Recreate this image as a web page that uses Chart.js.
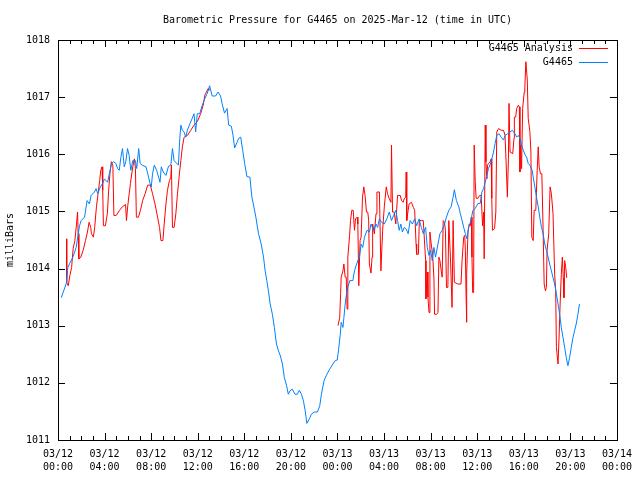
<!DOCTYPE html>
<html>
<head>
<meta charset="utf-8">
<script src="https://cdn.jsdelivr.net/npm/chart.js@4/dist/chart.umd.min.js"></script>
<style>
  body { margin: 0; background: #fff; }
  canvas { display: block; }
</style>
</head>
<body>
<canvas id="myChart" width="640" height="480"></canvas>
<script>
// hours since 2025-03-12 00:00 UTC
const blueHours = [0.28,0.71,0.85,1.00,1.28,1.56,1.85,1.99,2.28,2.50,2.70,2.84,3.13,3.27,3.41,3.64,3.84,3.98,4.26,4.41,4.60,4.77,4.97,5.12,5.26,5.40,5.54,5.69,5.82,5.97,6.11,6.25,6.42,6.65,6.76,6.93,7.05,7.22,7.56,7.78,7.90,8.01,8.12,8.27,8.47,8.64,8.76,8.87,9.04,9.27,9.49,9.69,9.83,9.97,10.34,10.46,10.55,10.68,10.83,10.97,11.11,11.34,11.53,11.68,11.82,11.96,12.17,12.39,12.62,12.81,13.02,13.24,13.53,13.75,13.96,14.09,14.30,14.52,14.66,14.89,15.03,15.17,15.52,15.69,15.86,16.03,16.22,16.48,16.65,16.82,16.99,17.22,17.45,17.65,17.79,17.93,18.07,18.22,18.41,18.58,18.76,18.93,19.10,19.27,19.44,19.63,19.78,19.92,20.12,20.35,20.55,20.72,20.91,21.08,21.23,21.37,21.63,21.76,21.99,22.28,22.48,22.62,22.85,23.04,23.33,23.61,23.81,23.98,24.10,24.24,24.32,24.47,24.55,24.66,24.78,24.89,25.06,25.32,25.46,25.60,25.75,25.89,26.03,26.17,26.32,26.54,26.74,26.88,27.11,27.31,27.45,27.60,27.79,28.02,28.24,28.45,28.64,28.82,29.01,29.16,29.30,29.44,29.58,29.73,29.90,30.07,30.24,30.43,30.63,30.80,31.01,31.20,31.37,31.57,31.71,31.86,32.00,32.14,32.28,32.42,32.63,32.80,32.99,33.19,33.36,33.56,33.76,33.93,34.04,34.21,34.42,34.55,34.70,34.84,34.98,35.12,35.27,35.46,35.63,35.83,36.06,36.26,36.40,36.55,36.68,36.83,36.97,37.20,37.40,37.54,37.68,37.88,38.05,38.26,38.39,38.62,38.82,39.02,39.24,39.39,39.53,39.67,39.81,39.96,40.09,40.24,40.38,40.52,40.72,40.81,40.95,41.09,41.24,41.37,41.52,41.66,41.80,41.94,42.09,42.22,42.37,42.51,42.65,42.80,42.94,43.08,43.22,43.37,43.51,43.65,43.79,43.93,44.08,44.22,44.36,44.50,44.65,44.78];
const bluePressure = [1013.49,1013.74,1014.02,1014.09,1014.2,1014.37,1014.75,1014.84,1014.9,1015.19,1015.13,1015.28,1015.34,1015.4,1015.31,1015.43,1015.49,1015.57,1015.51,1015.66,1015.84,1015.87,1015.84,1015.75,1015.72,1015.95,1016.1,1015.78,1015.87,1016.1,1015.98,1015.72,1015.89,1015.89,1015.75,1016.1,1015.84,1015.81,1015.78,1015.6,1015.49,1015.43,1015.66,1015.81,1015.72,1015.6,1015.51,1015.78,1015.69,1015.63,1015.79,1015.81,1016.1,1015.89,1015.81,1016.28,1016.51,1016.42,1016.39,1016.3,1016.42,1016.54,1016.63,1016.71,1016.39,1016.71,1016.71,1016.86,1016.98,1017.06,1017.2,1017.02,1017.02,1017.09,1017.02,1016.89,1016.72,1016.8,1016.51,1016.49,1016.33,1016.11,1016.28,1016.3,1016.07,1015.84,1015.61,1015.6,1015.25,1015.08,1014.9,1014.61,1014.43,1014.2,1013.96,1013.79,1013.61,1013.38,1013.2,1012.97,1012.68,1012.56,1012.47,1012.33,1012.09,1011.95,1011.8,1011.86,1011.89,1011.8,1011.8,1011.87,1011.8,1011.68,1011.51,1011.29,1011.39,1011.45,1011.49,1011.49,1011.6,1011.8,1012.04,1012.13,1012.24,1012.33,1012.39,1012.4,1012.59,1012.85,1013.06,1012.97,1013.14,1013.38,1013.56,1013.67,1013.79,1013.79,1013.96,1014.05,1014.14,1014.2,1014.43,1014.37,1014.55,1014.67,1014.64,1014.78,1014.67,1014.78,1014.72,1014.87,1014.81,1014.78,1014.87,1014.99,1014.84,1014.93,1015.02,1014.84,1014.67,1014.78,1014.64,1014.72,1014.69,1014.61,1014.84,1014.78,1014.87,1014.75,1014.87,1014.72,1014.61,1014.72,1014.37,1014.23,1014.32,1014.14,1014.37,1014.2,1014.43,1014.61,1014.67,1014.78,1014.9,1015.02,1015.08,1015.25,1015.38,1015.19,1015.08,1014.96,1014.84,1014.72,1014.61,1014.52,1014.72,1014.84,1015.02,1015.05,1015.14,1015.14,1015.34,1015.4,1015.51,1015.63,1015.75,1015.87,1016.04,1016.19,1016.33,1016.36,1016.3,1016.25,1016.33,1016.36,1016.39,1016.42,1016.36,1016.3,1016.33,1016.28,1016.16,1016.07,1016.0,1015.95,1015.84,1015.81,1015.72,1015.6,1015.43,1015.25,1015.08,1014.9,1014.72,1014.61,1014.43,1014.32,1014.2,1014.08,1013.96,1013.84,1013.73,1013.56,1013.38,1013.2,1012.97,1012.79,1012.62,1012.44,1012.3,1012.44,1012.62,1012.79,1012.91,1013.03,1013.2,1013.38];

// analysis series, null marks the gap between the two runs
const redHours = [0.74,0.75,0.88,1.02,1.17,1.30,1.45,1.59,1.68,1.73,1.79,1.96,2.16,2.36,2.53,2.67,2.81,2.87,3.04,3.15,3.30,3.44,3.58,3.67,3.78,3.84,3.90,4.07,4.24,4.35,4.46,4.58,4.71,4.80,5.00,5.29,5.52,5.80,5.88,5.99,6.22,6.42,6.56,6.65,6.73,6.91,7.08,7.27,7.48,7.70,7.93,8.12,8.33,8.55,8.72,8.84,9.01,9.12,9.27,9.40,9.57,9.69,9.74,9.83,9.97,10.12,10.26,10.40,10.55,10.68,10.83,11.11,11.40,11.68,11.96,12.25,12.47,12.62,12.90,12.96,
  18.0,
  24.04,24.19,24.27,24.32,24.47,24.55,24.66,24.75,24.83,24.89,25.04,25.12,25.23,25.35,25.46,25.55,25.69,25.75,25.83,25.94,26.03,26.15,26.26,26.37,26.49,26.60,26.68,26.74,26.88,26.97,27.02,27.17,27.31,27.39,27.60,27.73,27.88,28.02,28.19,28.30,28.45,28.59,28.64,28.73,28.87,29.01,29.16,29.39,29.50,29.64,29.73,29.86,29.90,29.95,30.07,30.15,30.35,30.52,30.63,30.75,30.80,30.95,31.03,31.20,31.37,31.57,31.60,31.71,31.77,31.86,31.94,32.05,32.17,32.28,32.34,32.51,32.63,32.71,32.80,32.91,32.99,33.08,33.19,33.27,33.36,33.48,33.56,33.70,33.84,33.93,34.04,34.33,34.61,34.70,34.84,34.93,34.98,35.04,35.07,35.12,35.21,35.32,35.41,35.49,35.55,35.61,35.69,35.74,35.83,35.91,36.06,36.21,36.34,36.46,36.55,36.60,36.69,36.75,36.83,36.89,36.97,37.11,37.20,37.25,37.31,37.49,37.60,37.68,37.83,38.05,38.26,38.39,38.48,38.59,38.68,38.73,38.82,39.05,39.16,39.19,39.30,39.39,39.53,39.62,39.67,39.73,39.81,39.90,40.04,40.09,40.18,40.30,40.38,40.52,40.61,40.69,40.81,40.89,41.03,41.15,41.24,41.32,41.43,41.55,41.66,41.75,41.86,41.94,42.00,42.14,42.26,42.37,42.51,42.56,42.65,42.74,42.80,42.94,43.03,43.11,43.22,43.31,43.39,43.45,43.51,43.60,43.69];
const redPressure = [1014.52,1013.76,1013.7,1013.88,1014.02,1014.35,1014.49,1014.78,1014.99,1014.61,1014.17,1014.2,1014.32,1014.49,1014.64,1014.81,1014.72,1014.61,1014.55,1014.72,1015.08,1015.31,1015.54,1015.72,1015.78,1015.37,1014.75,1014.75,1014.96,1015.37,1015.66,1015.87,1015.81,1014.93,1014.93,1015.02,1015.08,1015.12,1014.84,1015.1,1015.49,1015.78,1015.92,1015.75,1014.9,1014.9,1015.02,1015.19,1015.31,1015.46,1015.46,1015.31,1015.13,1014.9,1014.72,1014.49,1014.49,1014.78,1015.13,1015.37,1015.54,1015.6,1015.81,1014.72,1014.72,1014.96,1015.31,1015.6,1015.89,1016.13,1016.3,1016.33,1016.42,1016.51,1016.57,1016.71,1016.86,1017.04,1017.15,1017.12,
  null,
  1013.0,1013.14,1013.56,1013.85,1013.96,1014.08,1013.85,1013.85,1013.29,1014.2,1014.58,1014.84,1015.02,1015.02,1014.67,1014.87,1014.9,1014.78,1013.7,1014.49,1014.55,1015.25,1015.43,1015.28,1014.99,1014.99,1014.84,1014.08,1013.92,1014.2,1014.78,1014.61,1014.96,1015.34,1015.34,1013.96,1014.67,1015.08,1015.43,1015.31,1015.22,1015.16,1016.16,1014.99,1014.99,1014.78,1015.28,1015.28,1015.19,1015.16,1015.22,1015.25,1015.69,1014.84,1015.02,1015.13,1015.16,1015.07,1015.02,1014.43,1014.25,1014.25,1014.84,1014.84,1014.84,1014.14,1013.47,1013.94,1013.5,1013.23,1014.64,1014.43,1014.25,1013.85,1013.2,1013.2,1013.23,1014.2,1014.14,1013.96,1013.85,1014.84,1014.81,1014.67,1013.67,1013.67,1014.84,1014.2,1013.32,1014.84,1013.76,1013.73,1013.73,1014.14,1014.55,1014.58,1014.32,1013.56,1013.06,1013.9,1014.66,1014.78,1014.75,1014.9,1014.2,1013.58,1013.58,1016.16,1015.52,1015.23,1015.23,1015.28,1015.28,1014.75,1014.99,1014.17,1016.51,1015.87,1015.57,1015.81,1015.84,1015.87,1015.92,1015.23,1014.67,1014.7,1014.99,1016.39,1016.45,1016.42,1016.42,1016.33,1015.87,1015.25,1015.92,1016.89,1016.04,1016.01,1016.28,1016.65,1016.65,1016.8,1016.86,1016.83,1015.69,1016.16,1015.75,1016.8,1017.09,1017.18,1017.62,1017.3,1016.63,1016.4,1016.04,1014.55,1014.49,1015.02,1015.02,1015.72,1016.13,1015.78,1015.66,1015.66,1014.67,1013.73,1013.61,1013.67,1014.32,1014.61,1015.43,1015.31,1014.96,1014.96,1013.9,1013.61,1012.62,1012.33,1012.8,1013.32,1013.9,1014.2,1013.84,1013.49,1014.14,1014.02,1013.84];

const xTickDates = ['03/12','03/12','03/12','03/12','03/12','03/12','03/13','03/13','03/13','03/13','03/13','03/13','03/14'];
const xTickTimes = ['00:00','04:00','08:00','12:00','16:00','20:00','00:00','04:00','08:00','12:00','16:00','20:00','00:00'];
const seriesNames = ['G4465 Analysis', 'G4465'];
const seriesColors = ['#ff0000', '#0080ff'];

const FONT = 'DejaVu Sans Mono';

// gnuplot style frame: box, inward ticks on all sides, legend top right
const framePlugin = {
  id: 'frame',
  afterDraw(chart) {
    const ctx = chart.ctx;
    const a = chart.chartArea;
    const xs = chart.scales.x;
    const ys = chart.scales.y;
    ctx.save();
    ctx.strokeStyle = '#000';
    ctx.lineWidth = 1;
    ctx.beginPath();
    for (let h = 0; h <= 48; h++) {
      const len = h % 4 === 0 ? 7 : 4;
      const px = Math.round(xs.getPixelForValue(h)) + 0.5;
      ctx.moveTo(px, a.bottom); ctx.lineTo(px, a.bottom - len);
      ctx.moveTo(px, a.top); ctx.lineTo(px, a.top + len);
    }
    for (let v = 1011; v <= 1018; v++) {
      const py = Math.round(ys.getPixelForValue(v)) + 0.5;
      ctx.moveTo(a.left, py); ctx.lineTo(a.left + 7, py);
      ctx.moveTo(a.right, py); ctx.lineTo(a.right - 7, py);
    }
    ctx.stroke();
    ctx.strokeRect(Math.round(a.left) + 0.5, Math.round(a.top) + 0.5,
      Math.round(a.right - a.left), Math.round(a.bottom - a.top));

    ctx.font = '10px "' + FONT + '"';
    ctx.textAlign = 'right';
    ctx.textBaseline = 'middle';
    seriesNames.forEach((name, i) => {
      const y = Math.round(a.top + 8 + i * 14);
      ctx.fillStyle = '#000';
      ctx.fillText(name, a.right - 44, y + 0.5);
      ctx.fillStyle = seriesColors[i];
      ctx.fillRect(a.right - 38, y, 29, 1);
    });
    ctx.restore();
  }
};

const toPoints = (xs, ys) => xs.map((x, i) => ({ x: x, y: ys[i] }));

new Chart(document.getElementById('myChart').getContext('2d'), {
  type: 'line',
  data: {
    datasets: [
      {
        label: seriesNames[0],
        data: toPoints(redHours, redPressure),
        borderColor: seriesColors[0],
        borderWidth: 1,
        pointRadius: 0,
        tension: 0,
        spanGaps: false,
        order: 1,
      },
      {
        label: seriesNames[1],
        data: toPoints(blueHours, bluePressure),
        borderColor: seriesColors[1],
        borderWidth: 1,
        pointRadius: 0,
        tension: 0,
        order: 0,
      },
    ],
  },
  options: {
    responsive: false,
    animation: false,
    devicePixelRatio: 1,
    layout: { padding: { right: 19 } },
    plugins: {
      legend: { display: false },
      tooltip: { enabled: false },
      title: {
        display: true,
        fullSize: false,
        text: 'Barometric Pressure for G4465 on 2025-Mar-12 (time in UTC)',
        color: '#000',
        font: { family: FONT, size: 10, weight: 'normal', lineHeight: 1.2 },
        padding: { top: 14, bottom: 14 },
      },
    },
    scales: {
      x: {
        type: 'linear',
        min: 0,
        max: 48,
        grid: { display: false, drawTicks: false },
        border: { display: false },
        afterFit: (s) => { s.height = 40; },
        ticks: {
          stepSize: 4,
          autoSkip: false,
          maxRotation: 0,
          padding: 8,
          color: '#000',
          font: { family: FONT, size: 10, lineHeight: 1.3 },
          callback: (v) => {
            const i = Math.round(v / 4);
            return [xTickDates[i], xTickTimes[i]];
          },
        },
      },
      y: {
        min: 1011,
        max: 1018,
        grid: { display: false, drawTicks: false },
        border: { display: false },
        afterFit: (s) => { s.width = 58; },
        title: {
          display: true,
          text: 'milliBars',
          color: '#000',
          font: { family: FONT, size: 10 },
          padding: { top: 4, bottom: 0 },
        },
        ticks: {
          stepSize: 1,
          padding: 8,
          color: '#000',
          font: { family: FONT, size: 10 },
          callback: (v) => String(v),
        },
      },
    },
  },
  plugins: [framePlugin],
});
</script>
</body>
</html>
